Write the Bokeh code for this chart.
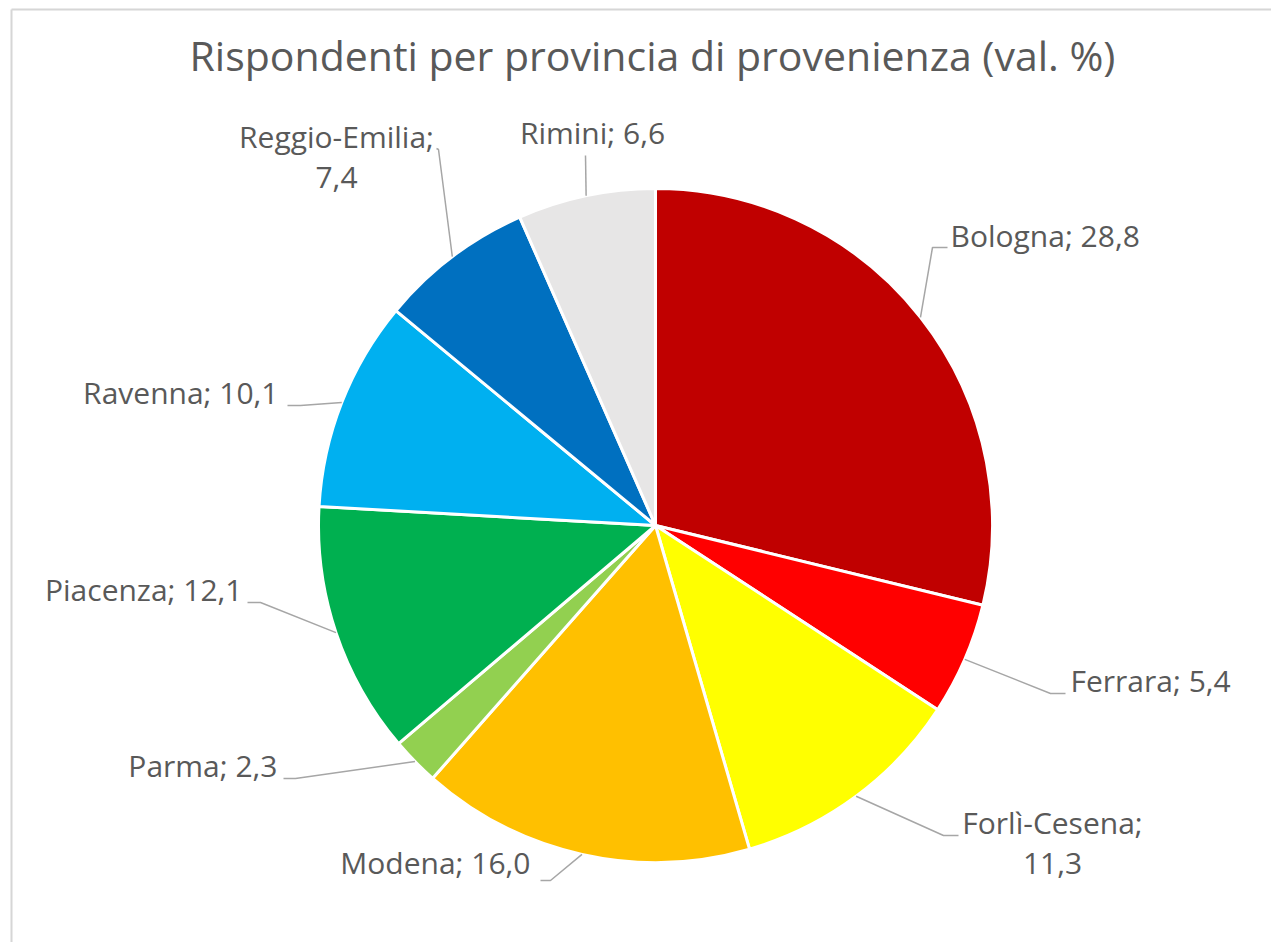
import math
from bokeh.plotting import figure
from bokeh.models import Range1d, ColumnDataSource
from bokeh.core.properties import value
from bokeh.embed import file_html
from bokeh.resources import INLINE

# ---- data ----
provinces = ["Bologna", "Ferrara", "Forlì-Cesena", "Modena", "Parma",
             "Piacenza", "Ravenna", "Reggio-Emilia", "Rimini"]
shares = [28.8, 5.4, 11.3, 16.0, 2.3, 12.1, 10.1, 7.4, 6.6]
colors = ["#C00000", "#FF0000", "#FFFF00", "#FFC000", "#92D050",
          "#00B050", "#00B0F0", "#0070C0", "#E7E6E6"]
title_text = "Rispondenti per provincia di provenienza (val. %)"

# ---- layout (pixel coordinates of the picture) ----
W, H = 1271, 942
CX, CY, R = 655, 525, 337
LAB_FS, TITLE_FS = 30, 41
# label anchor x, baseline y of last line, alignment, two-line?
lab_x = [950, 1070, 1052, 530, 277, 242, 278, 336, 592]
lab_y = [248, 693, 876, 875, 778, 602, 405, 190, 145]
lab_align = ["left", "left", "center", "right", "right", "right", "right", "center", "center"]
lab_two = [False, False, True, False, False, False, False, True, False]
# leader elbow and end points
elb = [(932, 247), (1050, 693), (943, 835), (550, 880), (295, 778),
       (260, 602), (300, 405), (438, 149), (585, 155)]
end = [(947, 247), (1065, 693), (958, 835), (540, 880), (283, 778),
       (247, 602), (287, 405), (436, 148), (585, 155)]
LINE_H = 41


def Y(y):
    return H - y


def TY(y, fs):
    # compensate the renderer's baseline placement
    return Y(y - 0.45 * fs)


p = figure(width=W, height=H, x_range=Range1d(0, W), y_range=Range1d(0, H),
           output_backend="svg", toolbar_location=None, min_border=0)
p.axis.visible = False
p.grid.visible = False
p.outline_line_color = None
p.background_fill_color = "white"
p.border_fill_color = "white"

# chart frame (left and top edges visible)
p.line(x=[11, 11], y=[Y(960), Y(9)], line_color="#D6D6D6", line_width=2)
p.line(x=[11, 1290], y=[Y(9), Y(9)], line_color="#D6D6D6", line_width=2)

# wedges
total = sum(shares)
starts, ends, mids = [], [], []
c = 0.0
for v in shares:
    a0 = math.pi / 2 - 2 * math.pi * c / total
    c += v
    a1 = math.pi / 2 - 2 * math.pi * c / total
    starts.append(a0)
    ends.append(a1)
    mids.append((a0 + a1) / 2)

src = ColumnDataSource(dict(start=starts, end=ends, color=colors, name=provinces))
p.wedge(x=CX, y=Y(CY), radius=R, start_angle="start", end_angle="end",
        direction="clock", fill_color="color", line_color="white", line_width=3,
        source=src)

# leader lines
xs, ys = [], []
for i, m in enumerate(mids):
    ex = CX + R * math.cos(m)
    ey = Y(CY) + R * math.sin(m)
    xs.append([ex, elb[i][0], end[i][0]])
    ys.append([ey, Y(elb[i][1]), Y(end[i][1])])
p.multi_line(xs=xs, ys=ys, line_color="#A6A6A6", line_width=1.5)

# labels
for i, name in enumerate(provinces):
    val = f"{shares[i]:.1f}".replace(".", ",")
    if lab_two[i]:
        lines = [f"{name};", val]
    else:
        lines = [f"{name}; {val}"]
    n = len(lines)
    for k, t in enumerate(lines):
        yy = lab_y[i] - (n - 1 - k) * LINE_H
        p.text(x=[lab_x[i]], y=[TY(yy, LAB_FS)], text=[t], text_align=lab_align[i],
               text_baseline="alphabetic", text_font=value("Open Sans"),
               text_font_size=f"{LAB_FS}px", text_color="#595959")

# title
p.text(x=[652], y=[TY(73, TITLE_FS)], text=[title_text], text_align="center",
       text_baseline="alphabetic", text_font=value("Open Sans"),
       text_font_size=f"{TITLE_FS}px", text_color="#595959")

open("out.html", "w").write(file_html(p, INLINE))
